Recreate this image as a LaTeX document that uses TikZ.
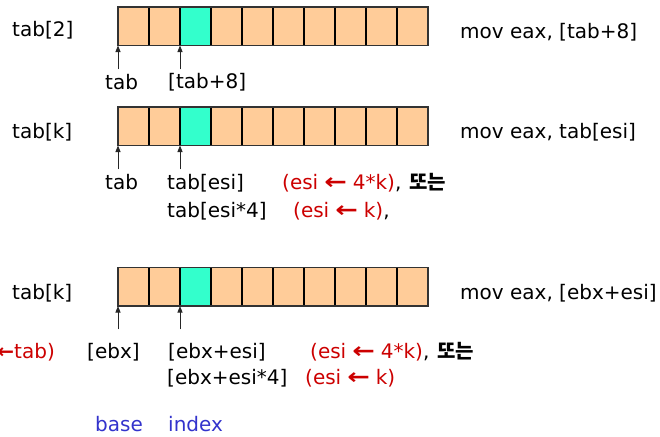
\documentclass[tikz,border=0pt]{standalone}
\usepackage{fontspec}
\setmainfont{DejaVu Sans}
\newfontfamily\kr{Noto Sans CJK KR}
\usetikzlibrary{arrows.meta}
\definecolor{cellorange}{HTML}{FFCC99}
\definecolor{cellcyan}{HTML}{33FFCC}
\definecolor{remark}{HTML}{CC0000}
\definecolor{role}{HTML}{3333CC}
% assignment arrow: tight form and spaced, widened form
\newcommand{\getsarrow}{{\bfseries ←}}
\newcommand{\getsspaced}{\hspace{0.3em}\scalebox{1.35}[1.1]{\getsarrow}\hspace{0.3em}}

\begin{document}
\begin{tikzpicture}[x=1pt,y=-1pt,
  font=\fontsize{20}{24}\selectfont,
  cell/.style={minimum width=31pt, minimum height=38.5pt, inner sep=0pt, outer sep=0pt, anchor=north west},
  txt/.style={anchor=base west, inner sep=0pt},
  ptr/.style={-{Triangle[length=6.5pt,width=5pt]}, line width=0.9pt, draw=black!85, fill=black}]
\useasboundingbox (0,0) rectangle (660,436);

% three arrays of ten cells, the third cell highlighted
\foreach \r/\top in {a/7, b/107, c/267.5} {
  \foreach \i/\c in {1/cellorange,2/cellorange,3/cellcyan,4/cellorange,5/cellorange,
                     6/cellorange,7/cellorange,8/cellorange,9/cellorange,10/cellorange} {
    \node[cell, fill=\c] (\r\i) at ({118+31*(\i-1)}, \top) {};
  }
  \foreach \i in {2,...,10} {
    \draw[line width=1.6pt] (\r\i.north west) -- (\r\i.south west);
  }
  \draw[line width=1.1pt, draw=black!80] (\r1.north west) rectangle (\r10.south east);
}

% pointers into the arrays
\coordinate (pa1) at (118,69);  \coordinate (pa3) at (180,69);
\coordinate (pb1) at (118,169); \coordinate (pb3) at (180,169);
\coordinate (pc1) at (118,329); \coordinate (pc3) at (180,329);
\draw[ptr] (pa1) -- (a1.south west);
\draw[ptr] (pa3) -- (a3.south west);
\draw[ptr] (pb1) -- (b1.south west);
\draw[ptr] (pb3) -- (b3.south west);
\draw[ptr] (pc1) -- (c1.south west);
\draw[ptr] (pc3) -- (c3.south west);

% first row: constant offset
\node[txt] (ta) at (12,37) {tab[2]};
\node[txt] (ia) at (460,38) {mov eax, [tab+8]};
\node[txt] (la1) at (105,89) {tab};
\node[txt] (la3) at (168,88) {[tab+8]};

% second row: indexed by esi
\node[txt] (tb) at (12,138) {tab[k]};
\node[txt] (ib) at (460,138) {mov eax, tab[esi]};
\node[txt] (lb1) at (105,189) {tab};
\node[txt] (lb3) at (167,189) {tab[esi]};
\node[txt] (nb3) at (282,189) {{\color{remark}(esi\getsspaced 4*k)},\hspace{0.4em}{\kr\bfseries 또는}};
\node[txt] (lb4) at (167,217) {tab[esi*4]};
\node[txt] (nb4) at (293,217) {{\color{remark}(esi\getsspaced k)},};

% third row: base plus index
\node[txt] (tc) at (12,299) {tab[k]};
\node[txt] (ic) at (460,299) {mov eax, [ebx+esi]};
\node[anchor=base east, inner sep=0pt, text=remark] (nc1) at (55,358) {(ebx\getsarrow tab)};
\node[txt] (lc1) at (87,358) {[ebx]};
\node[txt] (lc3) at (168,358) {[ebx+esi]};
\node[txt] (nc3) at (310,358) {{\color{remark}(esi\getsspaced 4*k)},\hspace{0.4em}{\kr\bfseries 또는}};
\node[txt] (lc4) at (167,384) {[ebx+esi*4]};
\node[txt, text=remark] (nc4) at (305,384) {(esi\getsspaced k)};
\node[txt, text=role] (base) at (95,431) {base};
\node[txt, text=role] (index) at (168,431) {index};
\end{tikzpicture}
\end{document}
